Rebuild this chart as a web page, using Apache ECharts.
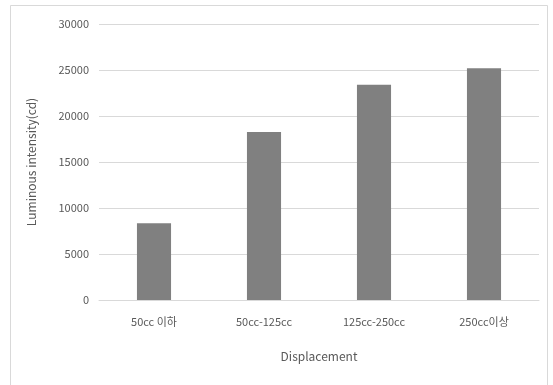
<!DOCTYPE html>
<html>
<head>
<meta charset="utf-8">
<script src="https://cdn.jsdelivr.net/npm/echarts@6/dist/echarts.min.js"></script>
<style>
  html, body { margin: 0; padding: 0; background: #fff; }
  #chart { width: 553px; height: 385px; }
</style>
</head>
<body>
<div id="chart"></div>
<script>
// Displacement classes and measured luminous intensity (cd)
const categories = ['50cc 이하', '50cc-125cc', '125cc-250cc', '250cc이상'];
const intensity = [8350, 18250, 23400, 25200];
const yTicks = { min: 0, max: 30000, interval: 5000 };

const font = '"Noto Sans CJK KR", "Noto Sans", sans-serif';
const chart = echarts.init(document.getElementById('chart'), null, { renderer: 'canvas' });

chart.setOption({
  backgroundColor: '#ffffff',
  animation: false,
  graphic: [{
    type: 'rect',
    shape: { x: 10.5, y: 5.5, width: 537, height: 400 },
    style: { fill: 'none', stroke: '#d9d9d9', lineWidth: 1 },
    silent: true,
    z: -1
  }],
  grid: { left: 99, right: 14, top: 24, bottom: 85, containLabel: false },
  xAxis: {
    type: 'category',
    data: categories,
    name: 'Displacement',
    nameLocation: 'middle',
    nameGap: 50,
    nameTextStyle: { color: '#595959', fontSize: 12, fontFamily: font },
    axisLine: { show: true, lineStyle: { color: '#d9d9d9', width: 1 } },
    axisTick: { show: false },
    axisLabel: { color: '#595959', fontSize: 11, fontFamily: font, margin: 16 }
  },
  yAxis: {
    type: 'value',
    min: yTicks.min,
    max: yTicks.max,
    interval: yTicks.interval,
    name: 'Luminous intensity(cd)',
    nameLocation: 'middle',
    nameGap: 62,
    nameRotate: 90,
    nameTextStyle: { color: '#595959', fontSize: 12, fontFamily: font },
    axisLine: { show: false },
    axisTick: { show: false },
    axisLabel: {
      color: '#595959', fontSize: 11, fontFamily: font, margin: 10,
      formatter: (v) => String(v)
    },
    splitLine: { lineStyle: { color: '#d9d9d9', width: 1 } }
  },
  series: [{
    type: 'bar',
    data: intensity,
    barWidth: '31%',
    itemStyle: { color: '#808080' }
  }]
});
</script>
</body>
</html>
